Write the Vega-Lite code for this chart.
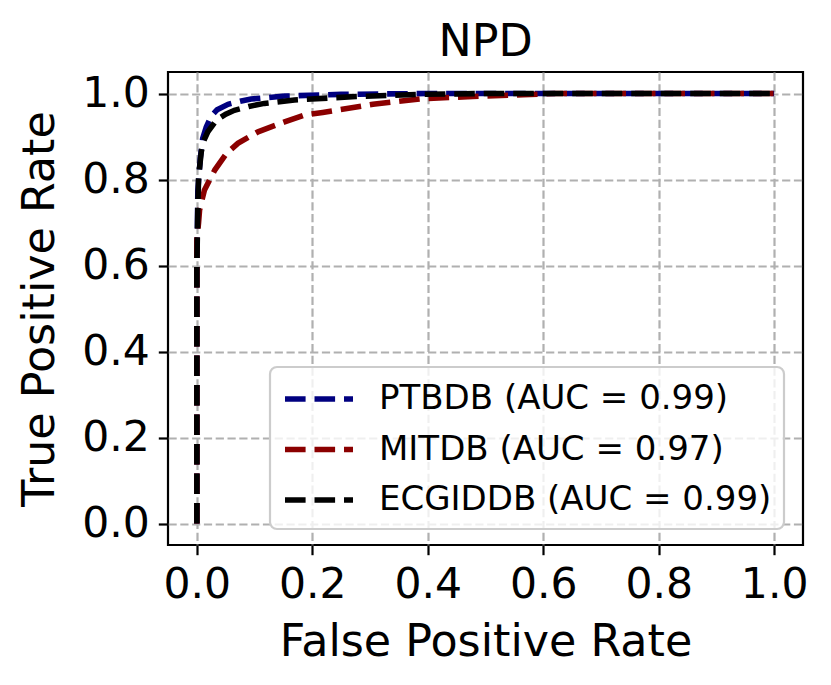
{
  "$schema": "https://vega.github.io/schema/vega-lite/v6.json",
  "autosize": {"type": "none"},
  "padding": {"left": 168, "top": 72, "right": 28, "bottom": 140},
  "width": 635,
  "height": 473,
  "background": "white",
  "title": {"text": "NPD", "fontSize": 44.4, "font": "DejaVu Sans", "fontWeight": "normal", "color": "black", "anchor": "middle", "baseline": "alphabetic", "offset": 17, "dy": 45},
  "config": {
    "view": {"stroke": "black", "strokeWidth": 2.2},
    "axis": {
      "labelFont": "DejaVu Sans",
      "titleFont": "DejaVu Sans",
      "labelFontSize": 42.5,
      "titleFontSize": 44.4,
      "labelColor": "black",
      "titleColor": "black",
      "titleFontWeight": "normal",
      "domain": false,
      "tickColor": "black",
      "tickWidth": 2.2,
      "tickSize": 9.7,
      "labelPadding": 9,
      "grid": true,
      "gridColor": "#b0b0b0",
      "gridWidth": 2.2,
      "gridDash": [8.2, 3.6]
    }
  },
  "data": {
    "values": [
      {"series": "PTBDB (AUC = 0.99)", "o": 0, "fpr": 0, "tpr": 0},
      {"series": "PTBDB (AUC = 0.99)", "o": 1, "fpr": 0, "tpr": 0.6},
      {"series": "PTBDB (AUC = 0.99)", "o": 2, "fpr": 0.0017, "tpr": 0.775},
      {"series": "PTBDB (AUC = 0.99)", "o": 3, "fpr": 0.006, "tpr": 0.85},
      {"series": "PTBDB (AUC = 0.99)", "o": 4, "fpr": 0.01, "tpr": 0.895},
      {"series": "PTBDB (AUC = 0.99)", "o": 5, "fpr": 0.0163, "tpr": 0.922},
      {"series": "PTBDB (AUC = 0.99)", "o": 6, "fpr": 0.025, "tpr": 0.948},
      {"series": "PTBDB (AUC = 0.99)", "o": 7, "fpr": 0.035, "tpr": 0.962},
      {"series": "PTBDB (AUC = 0.99)", "o": 8, "fpr": 0.054, "tpr": 0.975},
      {"series": "PTBDB (AUC = 0.99)", "o": 9, "fpr": 0.075, "tpr": 0.982},
      {"series": "PTBDB (AUC = 0.99)", "o": 10, "fpr": 0.094, "tpr": 0.987},
      {"series": "PTBDB (AUC = 0.99)", "o": 11, "fpr": 0.152, "tpr": 0.994},
      {"series": "PTBDB (AUC = 0.99)", "o": 12, "fpr": 0.25, "tpr": 0.998},
      {"series": "PTBDB (AUC = 0.99)", "o": 13, "fpr": 0.4, "tpr": 1.0},
      {"series": "PTBDB (AUC = 0.99)", "o": 14, "fpr": 1.0, "tpr": 1.0},
      {"series": "MITDB (AUC = 0.97)", "o": 0, "fpr": 0, "tpr": 0},
      {"series": "MITDB (AUC = 0.97)", "o": 1, "fpr": 0, "tpr": 0.66},
      {"series": "MITDB (AUC = 0.97)", "o": 2, "fpr": 0.003, "tpr": 0.7},
      {"series": "MITDB (AUC = 0.97)", "o": 3, "fpr": 0.0047, "tpr": 0.729},
      {"series": "MITDB (AUC = 0.97)", "o": 4, "fpr": 0.013, "tpr": 0.775},
      {"series": "MITDB (AUC = 0.97)", "o": 5, "fpr": 0.031, "tpr": 0.822},
      {"series": "MITDB (AUC = 0.97)", "o": 6, "fpr": 0.051, "tpr": 0.86},
      {"series": "MITDB (AUC = 0.97)", "o": 7, "fpr": 0.071, "tpr": 0.884},
      {"series": "MITDB (AUC = 0.97)", "o": 8, "fpr": 0.106, "tpr": 0.911},
      {"series": "MITDB (AUC = 0.97)", "o": 9, "fpr": 0.152, "tpr": 0.934},
      {"series": "MITDB (AUC = 0.97)", "o": 10, "fpr": 0.184, "tpr": 0.949},
      {"series": "MITDB (AUC = 0.97)", "o": 11, "fpr": 0.218, "tpr": 0.956},
      {"series": "MITDB (AUC = 0.97)", "o": 12, "fpr": 0.305, "tpr": 0.975},
      {"series": "MITDB (AUC = 0.97)", "o": 13, "fpr": 0.392, "tpr": 0.988},
      {"series": "MITDB (AUC = 0.97)", "o": 14, "fpr": 0.478, "tpr": 0.993},
      {"series": "MITDB (AUC = 0.97)", "o": 15, "fpr": 0.565, "tpr": 0.997},
      {"series": "MITDB (AUC = 0.97)", "o": 16, "fpr": 0.62, "tpr": 1.0},
      {"series": "MITDB (AUC = 0.97)", "o": 17, "fpr": 1.0, "tpr": 1.0},
      {"series": "ECGIDDB (AUC = 0.99)", "o": 0, "fpr": 0, "tpr": 0},
      {"series": "ECGIDDB (AUC = 0.99)", "o": 1, "fpr": 0, "tpr": 0.6},
      {"series": "ECGIDDB (AUC = 0.99)", "o": 2, "fpr": 0.0017, "tpr": 0.736},
      {"series": "ECGIDDB (AUC = 0.99)", "o": 3, "fpr": 0.003, "tpr": 0.806},
      {"series": "ECGIDDB (AUC = 0.99)", "o": 4, "fpr": 0.0076, "tpr": 0.864},
      {"series": "ECGIDDB (AUC = 0.99)", "o": 5, "fpr": 0.012, "tpr": 0.89},
      {"series": "ECGIDDB (AUC = 0.99)", "o": 6, "fpr": 0.019, "tpr": 0.911},
      {"series": "ECGIDDB (AUC = 0.99)", "o": 7, "fpr": 0.034, "tpr": 0.938},
      {"series": "ECGIDDB (AUC = 0.99)", "o": 8, "fpr": 0.05, "tpr": 0.952},
      {"series": "ECGIDDB (AUC = 0.99)", "o": 9, "fpr": 0.065, "tpr": 0.961},
      {"series": "ECGIDDB (AUC = 0.99)", "o": 10, "fpr": 0.09, "tpr": 0.97},
      {"series": "ECGIDDB (AUC = 0.99)", "o": 11, "fpr": 0.117, "tpr": 0.977},
      {"series": "ECGIDDB (AUC = 0.99)", "o": 12, "fpr": 0.169, "tpr": 0.985},
      {"series": "ECGIDDB (AUC = 0.99)", "o": 13, "fpr": 0.276, "tpr": 0.993},
      {"series": "ECGIDDB (AUC = 0.99)", "o": 14, "fpr": 0.39, "tpr": 0.998},
      {"series": "ECGIDDB (AUC = 0.99)", "o": 15, "fpr": 0.5, "tpr": 1.0},
      {"series": "ECGIDDB (AUC = 0.99)", "o": 16, "fpr": 1.0, "tpr": 1.0}
    ]
  },
  "mark": {"type": "line", "strokeWidth": 5.56, "strokeDash": [20.6, 8.9], "strokeCap": "butt", "clip": true},
  "encoding": {
    "x": {
      "field": "fpr", "type": "quantitative",
      "scale": {"domain": [-0.05, 1.05], "nice": false, "zero": false},
      "axis": {"title": "False Positive Rate", "values": [0, 0.2, 0.4, 0.6, 0.8, 1.0], "format": ".1f", "titleX": 317.5, "titleY": 110, "titleBaseline": "alphabetic", "titleAnchor": "middle", "titleAlign": "center"}
    },
    "y": {
      "field": "tpr", "type": "quantitative",
      "scale": {"domain": [-0.05, 1.05], "nice": false, "zero": false},
      "axis": {"title": "True Positive Rate", "values": [0, 0.2, 0.4, 0.6, 0.8, 1.0], "format": ".1f", "titleX": -115, "titleY": 236.5, "titleAngle": -90, "titleBaseline": "alphabetic", "titleAnchor": "middle", "titleAlign": "center"}
    },
    "order": {"field": "o", "type": "quantitative"},
    "color": {
      "field": "series", "type": "nominal",
      "scale": {"domain": ["PTBDB (AUC = 0.99)", "MITDB (AUC = 0.97)", "ECGIDDB (AUC = 0.99)"], "range": ["#000080", "#8b0000", "#000000"]},
      "legend": {
        "title": null,
        "orient": "none",
        "legendX": 102,
        "legendY": 295,
        "padding": 12,
        "fillColor": "rgba(255,255,255,0.8)",
        "strokeColor": "#cccccc",
        "cornerRadius": 7,
        "symbolType": "M-1,0H3",
        "symbolSize": 1156,
        "symbolStrokeWidth": 5.56,
        "symbolDash": [20.6, 8.9],
        "symbolFillColor": "transparent",
        "labelFont": "DejaVu Sans",
        "labelFontSize": 34,
        "labelColor": "black",
        "labelOffset": 57,
        "labelLimit": 1000,
        "rowPadding": 13.5,
        "encode": {"legend": {"update": {"strokeWidth": {"value": 2.2}}}}
      }
    }
  }
}
